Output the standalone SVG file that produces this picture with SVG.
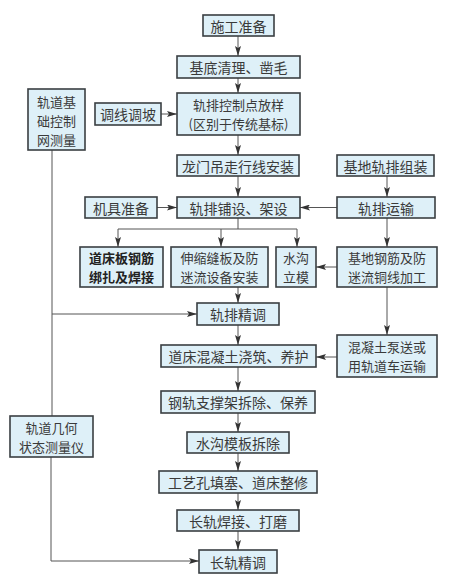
<svg xmlns="http://www.w3.org/2000/svg" width="468" height="578" viewBox="0 0 468 578">
<style>
.b{fill:#def0f8;stroke:#3a3f42;stroke-width:1.6}
.t{font-family:"Noto Sans CJK SC","Noto Sans CJK JP",sans-serif;font-size:14px;fill:#3a3a3a;text-anchor:middle;dominant-baseline:central}
.m{font-size:13px}
.bd{font-weight:bold;fill:#222}
.c{fill:none;stroke:#555;stroke-width:1}
</style>
<defs>
<marker id="a" viewBox="0 0 10 6" refX="10" refY="3" markerWidth="10" markerHeight="6" markerUnits="userSpaceOnUse" orient="auto">
<path d="M0,0 L10,3 L0,6 L2,3 Z" fill="#333"/>
</marker>
</defs>
<rect width="468" height="578" fill="#ffffff"/>
<g id="connectors" class="c">
<path d="M238,36 V56" marker-end="url(#a)"/>
<path d="M238,78 V93" marker-end="url(#a)"/>
<path d="M238,135 V155" marker-end="url(#a)"/>
<path d="M238,176 V197" marker-end="url(#a)"/>
<path d="M238,218 V229"/>
<path d="M118,229 H297"/>
<path d="M118,229 V247" marker-end="url(#a)"/>
<path d="M221,229 V247" marker-end="url(#a)"/>
<path d="M297,229 V247" marker-end="url(#a)"/>
<path d="M238,287 V303" marker-end="url(#a)"/>
<path d="M238,325 V345" marker-end="url(#a)"/>
<path d="M238,367 V391" marker-end="url(#a)"/>
<path d="M238,413 V432" marker-end="url(#a)"/>
<path d="M238,453 V471" marker-end="url(#a)"/>
<path d="M238,493 V510" marker-end="url(#a)"/>
<path d="M238,531 V550" marker-end="url(#a)"/>
<path d="M161,114 H177" marker-end="url(#a)"/>
<path d="M157,207.5 H177" marker-end="url(#a)"/>
<path d="M387,176 V197" marker-end="url(#a)"/>
<path d="M337,207.5 H300" marker-end="url(#a)"/>
<path d="M387,218 V247" marker-end="url(#a)"/>
<path d="M337,267 H316" marker-end="url(#a)"/>
<path d="M387,287 V335" marker-end="url(#a)"/>
<path d="M337,357 H316" marker-end="url(#a)"/>
<path d="M52,150 V416"/>
<path d="M52,314 H197" marker-end="url(#a)"/>
<path d="M51,457 V561 H199" marker-end="url(#a)"/>
</g>
<g id="n1"><rect class="b" x="203" y="15" width="71" height="21"/><text class="t" x="238.5" y="25.5">施工准备</text></g>
<g id="n2"><rect class="b" x="177" y="56" width="123" height="22"/><text class="t" x="238.5" y="67">基底清理、凿毛</text></g>
<g id="n3"><rect class="b" x="177" y="93" width="123" height="42"/><text class="t m" x="238.5" y="104.5">轨排控制点放样</text><text class="t m" x="238.5" y="123.5">(区别于传统基标)</text></g>
<g id="n4"><rect class="b" x="95" y="103" width="66" height="22"/><text class="t" x="128" y="114">调线调坡</text></g>
<g id="n5"><rect class="b" x="28" y="89" width="57" height="61"/><text class="t m" x="56.5" y="101.5">轨道基</text><text class="t m" x="56.5" y="120.5">础控制</text><text class="t m" x="56.5" y="139.5">网测量</text></g>
<g id="n6"><rect class="b" x="177" y="155" width="122" height="21"/><text class="t" x="238" y="165.5">龙门吊走行线安装</text></g>
<g id="n7"><rect class="b" x="337" y="155" width="97" height="21"/><text class="t" x="385.5" y="165.5">基地轨排组装</text></g>
<g id="n8"><rect class="b" x="85" y="197" width="72" height="21"/><text class="t" x="121" y="207.5">机具准备</text></g>
<g id="n9"><rect class="b" x="177" y="197" width="123" height="21"/><text class="t" x="238.5" y="207.5">轨排铺设、架设</text></g>
<g id="n10"><rect class="b" x="337" y="197" width="98" height="21"/><text class="t" x="386" y="207.5">轨排运输</text></g>
<g id="n11"><rect class="b" x="80" y="247" width="83" height="40"/><text class="t m bd" x="121.5" y="257.5">道床板钢筋</text><text class="t m bd" x="121.5" y="276.5">绑扎及焊接</text></g>
<g id="n12"><rect class="b" x="171" y="247" width="97" height="40"/><text class="t m" x="219.5" y="257.5">伸缩缝板及防</text><text class="t m" x="219.5" y="276.5">迷流设备安装</text></g>
<g id="n13"><rect class="b" x="276" y="247" width="40" height="40"/><text class="t m" x="296" y="257.5">水沟</text><text class="t m" x="296" y="276.5">立模</text></g>
<g id="n14"><rect class="b" x="337" y="247" width="100" height="40"/><text class="t m" x="387" y="257.5">基地钢筋及防</text><text class="t m" x="387" y="276.5">迷流铜线加工</text></g>
<g id="n15"><rect class="b" x="197" y="303" width="82" height="22"/><text class="t" x="238" y="314">轨排精调</text></g>
<g id="n16"><rect class="b" x="161" y="345" width="155" height="22"/><text class="t" x="238.5" y="356">道床混凝土浇筑、养护</text></g>
<g id="n17"><rect class="b" x="337" y="335" width="100" height="42"/><text class="t m" x="387" y="346.5">混凝土泵送或</text><text class="t m" x="387" y="365.5">用轨道车运输</text></g>
<g id="n18"><rect class="b" x="161" y="391" width="154" height="22"/><text class="t" x="238" y="402">钢轨支撑架拆除、保养</text></g>
<g id="n19"><rect class="b" x="187" y="432" width="102" height="21"/><text class="t" x="238" y="442.5">水沟模板拆除</text></g>
<g id="n20"><rect class="b" x="10" y="416" width="83" height="41"/><text class="t m" x="51.5" y="427">轨道几何</text><text class="t m" x="51.5" y="446">状态测量仪</text></g>
<g id="n21"><rect class="b" x="159" y="471" width="158" height="22"/><text class="t" x="238" y="482">工艺孔填塞、道床整修</text></g>
<g id="n22"><rect class="b" x="177" y="510" width="122" height="21"/><text class="t" x="238" y="520.5">长轨焊接、打磨</text></g>
<g id="n23"><rect class="b" x="199" y="550" width="78" height="23"/><text class="t" x="238" y="561.5">长轨精调</text></g>
</svg>
